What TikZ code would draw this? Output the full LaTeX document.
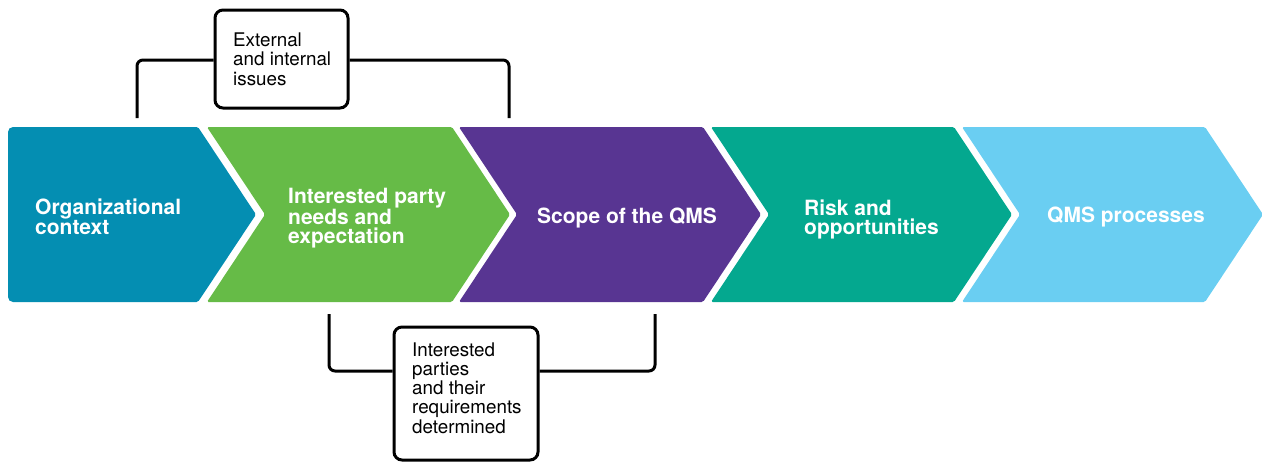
\documentclass[tikz,border=0pt]{standalone}
\usepackage{fontspec}
\setmainfont{TeX Gyre Heros}
\definecolor{cblue}{RGB}{4,142,178}
\definecolor{cgreen}{RGB}{102,187,71}
\definecolor{cpurple}{RGB}{88,53,146}
\definecolor{cteal}{RGB}{4,168,143}
\definecolor{clight}{RGB}{106,206,242}
\tikzset{
  chev/.style={rounded corners=1.5pt},
  steptext/.style={anchor=base west, inner sep=0pt, align=left, text=white,
    font=\fontsize{21}{18.7}\selectfont\bfseries},
  framebox/.style={draw=black, line width=3pt, rounded corners=8pt, fill=white, inner sep=0pt},
  boxtext/.style={anchor=base west, inner sep=0pt, align=left, text=black,
    font=\fontsize{18.8}{19.1}\selectfont},
  bracket/.style={draw=black, line width=3pt, rounded corners=6pt},
}
\begin{document}
\begin{tikzpicture}[x=1pt,y=-1pt]
\useasboundingbox (0,0) rectangle (1262,461);
% chevrons
\fill[cblue] (8,214.5) [rounded corners=5pt] -- (8,127) [rounded corners=1.5pt] -- (198,127) -- (256,214.5) -- (198,302) [rounded corners=5pt] -- (8,302) -- cycle;
\fill[cgreen, chev] (207,127) -- (452,127) -- (510,214.5) -- (452,302) -- (207,302) -- (265,214.5) -- cycle;
\fill[cpurple, chev] (459,127) -- (703,127) -- (761,214.5) -- (703,302) -- (459,302) -- (517,214.5) -- cycle;
\fill[cteal, chev] (711,127) -- (954,127) -- (1012,214.5) -- (954,302) -- (711,302) -- (769,214.5) -- cycle;
\fill[clight, chev] (962,127) -- (1205,127) -- (1263,214.5) -- (1205,302) -- (962,302) -- (1020,214.5) -- cycle;
% chevron labels (anchored at the baseline of the last line)
\node[steptext] (t1) at (35,234) {Organizational\\context};
\node[steptext] (t2) at (288,243) {Interested party\\needs and\\expectation};
\node[steptext] (t3) at (537,223) {Scope of the QMS};
\node[steptext] (t4) at (804,234) {Risk and\\opportunities};
\node[steptext] (t5) at (1047,222) {QMS processes};
% upper box and bracket
\node[framebox, minimum width=133pt, minimum height=98pt] (issues) at (281.5,59) {};
\node[boxtext] (issuestext) at (233,85) {External\\and internal\\issues};
\coordinate (ul) at (137,118);
\coordinate (ur) at (509,118);
\coordinate (umid) at (0,60);
\draw[bracket] (ul) |- (issues.west |- umid);
\draw[bracket] (issues.east |- umid) -| (ur);
% lower box and bracket
\node[framebox, minimum width=144pt, minimum height=133pt] (parties) at (466,393.5) {};
\node[boxtext] (partiestext) at (412,433) {Interested\\parties\\and their\\requirements\\determined};
\coordinate (ll) at (329,314);
\coordinate (lr) at (655,314);
\coordinate (lmid) at (0,371);
\draw[bracket] (ll) |- (parties.west |- lmid);
\draw[bracket] (parties.east |- lmid) -| (lr);
\end{tikzpicture}
\end{document}
